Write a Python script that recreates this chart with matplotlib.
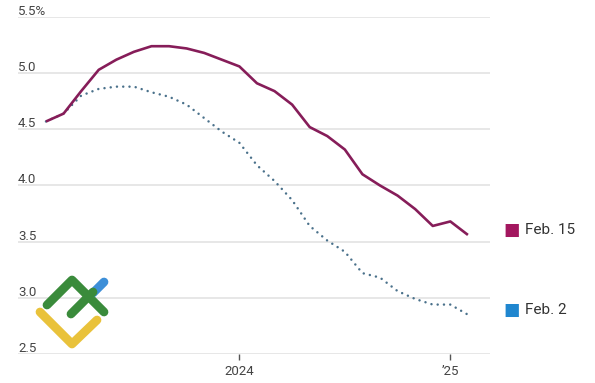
import matplotlib
matplotlib.use("Agg")
import matplotlib.pyplot as plt
from matplotlib.lines import Line2D
from matplotlib.transforms import blended_transform_factory, offset_copy
import matplotlib.font_manager as fm

# ---------------- data ----------------
months = ["2023-02", "2023-03", "2023-04", "2023-05", "2023-06", "2023-07", "2023-08",
          "2023-09", "2023-10", "2023-11", "2023-12", "2024-01", "2024-02", "2024-03",
          "2024-04", "2024-05", "2024-06", "2024-07", "2024-08", "2024-09", "2024-10",
          "2024-11", "2024-12", "2025-01", "2025-02"]
feb15 = [4.57, 4.64, 4.84, 5.03, 5.12, 5.19, 5.24, 5.24, 5.22, 5.18, 5.12, 5.06, 4.91,
         4.84, 4.72, 4.52, 4.44, 4.32, 4.10, 4.00, 3.91, 3.79, 3.64, 3.68, 3.56]
feb2 = [4.57, 4.64, 4.80, 4.86, 4.88, 4.88, 4.83, 4.79, 4.72, 4.60, 4.48, 4.38, 4.18,
        4.04, 3.87, 3.64, 3.51, 3.41, 3.22, 3.18, 3.06, 2.99, 2.94, 2.94, 2.85]
yticks = [2.5, 3.0, 3.5, 4.0, 4.5, 5.0, 5.5]
ytick_labels = ["2.5", "3.0", "3.5", "4.0", "4.5", "5.0", "5.5%"]
xtick_months = ["2024-01", "2025-01"]
xtick_labels = ["2024", "\u201925"]
series_labels = ["Feb. 15", "Feb. 2"]

# ---------------- style ----------------
avail = {f.name for f in fm.fontManager.ttflist}
fam = [f for f in ["Liberation Sans Narrow", "Roboto", "DejaVu Sans"] if f in avail]
plt.rcParams["font.family"] = fam

W, H = 595, 383
fig = plt.figure(figsize=(W / 100, H / 100), dpi=100)
left, right, top, bottom = 18, 490, 17, 354
ax = fig.add_axes([left / W, 1 - bottom / H, (right - left) / W, (bottom - top) / H])

x = list(range(len(months)))
solid_color = "#861d59"
dot_color = "#4a718b"
ax.plot(x, feb2, color=dot_color, lw=1.8, linestyle=(0, (0.01, 2.5)),
        dash_capstyle="round", zorder=3)
ax.plot(x, feb15, color=solid_color, lw=1.9, solid_capstyle="butt",
        solid_joinstyle="round", zorder=4)

x0 = (left - 46) / 17.58
x1 = (right - 46) / 17.58
ax.set_xlim(x0, x1)
ax.set_ylim(2.5, 5.5)

for s in ax.spines.values():
    s.set_visible(False)
ax.set_yticks(yticks)
ax.yaxis.grid(True, color="#e3e3e3", lw=1.2, zorder=0)
ax.tick_params(axis="y", length=0, labelleft=False)

tr = blended_transform_factory(ax.transAxes, ax.transData)
tr_up = offset_copy(tr, fig=fig, x=0, y=2, units="dots")
for v, lab in zip(yticks, ytick_labels):
    ax.text(0.0, v, lab, transform=tr_up, ha="left", va="baseline",
            fontsize=9.5, color="#444444")

ax.set_xticks([months.index(m) for m in xtick_months])
ax.set_xticklabels(xtick_labels)
ax.tick_params(axis="x", length=4, width=1, color="#555555", pad=4,
               labelsize=9.5, labelcolor="#444444")

# end labels (legend-like)
tr_lab = blended_transform_factory(fig.transFigure, ax.transData)
for vals, lab, col in [(feb15, series_labels[0], "#a3175f"),
                       (feb2, series_labels[1], "#1f86cf")]:
    yv = vals[-1] + 0.045
    ax.text(512 / W, yv, "\u25A0", transform=tr_lab, ha="center", va="center",
            fontsize=12.5, color=col, family="DejaVu Sans")
    ax.text(525 / W, yv, lab, transform=tr_lab, ha="left", va="center",
            fontsize=11, color="#333333")

# watermark logo
def seg(pts, color):
    xs = [p[0] / W for p in pts]
    ys = [1 - p[1] / H for p in pts]
    fig.add_artist(Line2D(xs, ys, transform=fig.transFigure, color=color, lw=6.3,
                          solid_capstyle="round", solid_joinstyle="round", zorder=10))

seg([(40, 312), (72, 344), (97, 320)], "#e9c23b")
seg([(47, 305), (72, 280), (104, 312)], "#3a8b3b")
seg([(93, 293), (104, 282)], "#3d8fd8")
seg([(71, 314), (93, 292)], "#3a8b3b")

fig.savefig("out.png", dpi=100, facecolor="white")
